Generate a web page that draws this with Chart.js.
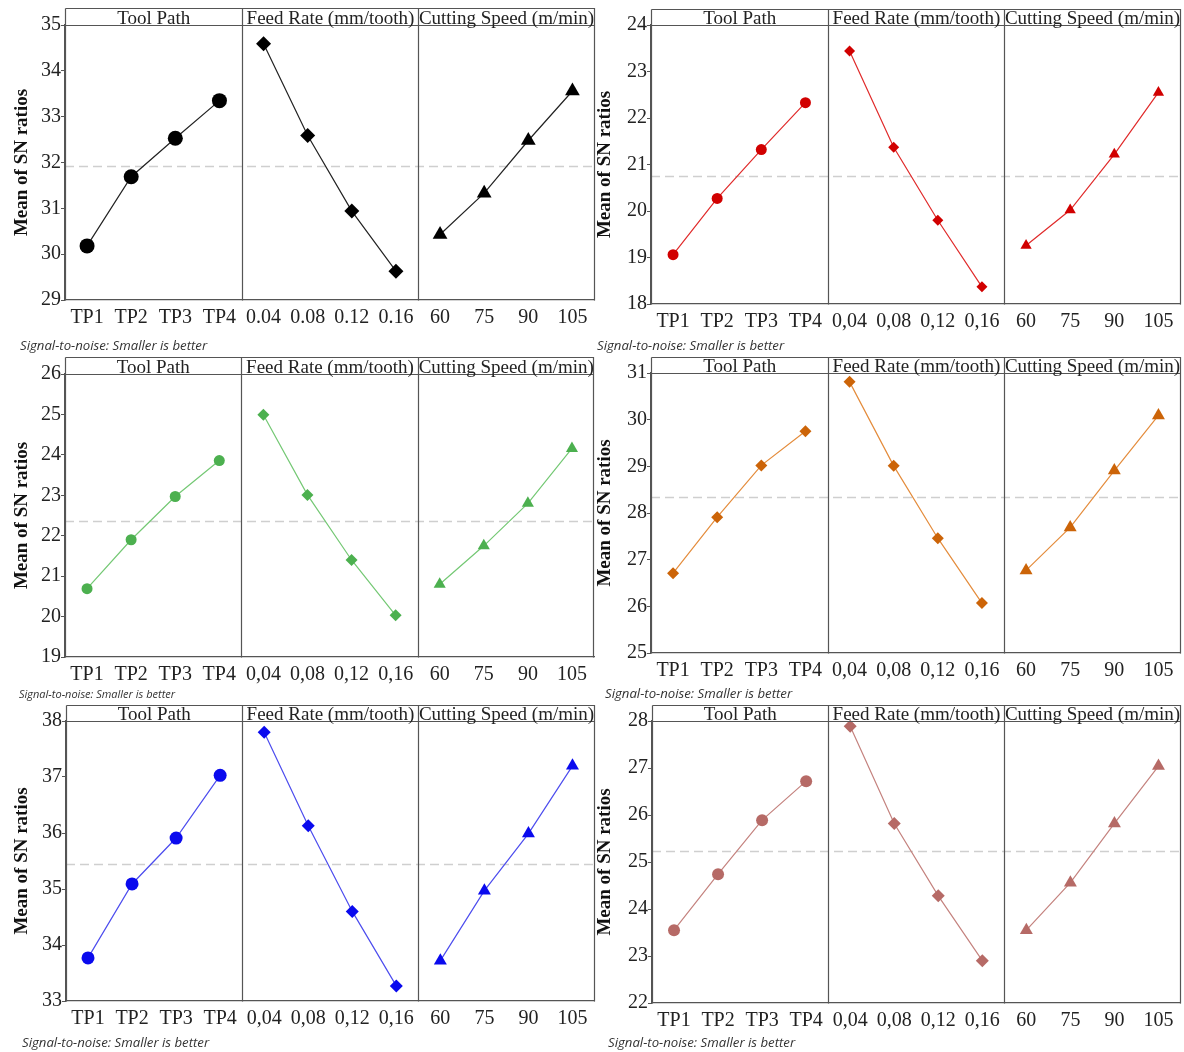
<!DOCTYPE html>
<html><head><meta charset="utf-8">
<script src="https://cdn.jsdelivr.net/npm/chart.js@4.4.1/dist/chart.umd.min.js"></script>
<style>
html,body{margin:0;padding:0;background:#fff;}
body{width:1184px;height:1052px;position:relative;overflow:hidden;}
.pane{position:absolute;}
.note{position:absolute;font-family:"Open Sans","Noto Sans",sans-serif;font-style:italic;color:#333;white-space:nowrap;line-height:16px;}
</style></head><body>
<script>
// ---------- data ----------
const toolPathLabels = ['TP1','TP2','TP3','TP4'];
const feedLabelsDot = ['0.04','0.08','0.12','0.16'];
const feedLabelsComma = ['0,04','0,08','0,12','0,16'];
const speedLabels = ['60','75','90','105'];
const facetTitles = ['Tool Path','Feed Rate (mm/tooth)','Cutting Speed (m/min)'];
const yAxisTitle = 'Mean of SN ratios';
const noteText = 'Signal-to-noise: Smaller is better';

// Panel A (black)
const aToolPath = [30.18, 31.69, 32.53, 33.35];
const aFeed = [34.59, 32.59, 30.94, 29.63];
const aSpeed = [30.43, 31.33, 32.48, 33.56];
const aMean = 31.93;
const aRange = [29, 35];
// Panel B (red)
const bToolPath = [19.06, 20.27, 21.32, 22.33];
const bFeed = [23.44, 21.37, 19.80, 18.37];
const bSpeed = [19.26, 20.02, 21.22, 22.55];
const bMean = 20.75;
const bRange = [18, 24];
// Panel C (green)
const cToolPath = [20.69, 21.90, 22.97, 23.86];
const cFeed = [24.99, 23.01, 21.40, 20.03];
const cSpeed = [20.80, 21.75, 22.80, 24.16];
const cMean = 22.36;
const cRange = [19, 26];
// Panel D (orange)
const dToolPath = [26.71, 27.91, 29.02, 29.75];
const dFeed = [30.81, 29.01, 27.46, 26.07];
const dSpeed = [26.77, 27.69, 28.91, 30.09];
const dMean = 28.35;
const dRange = [25, 31];
// Panel E (blue)
const eToolPath = [33.77, 35.09, 35.91, 37.03];
const eFeed = [37.80, 36.13, 34.60, 33.27];
const eSpeed = [33.72, 34.97, 35.99, 37.20];
const eMean = 35.45;
const eRange = [33, 38];
// Panel F (rose)
const fToolPath = [23.55, 24.74, 25.89, 26.72];
const fFeed = [27.89, 25.82, 24.28, 22.90];
const fSpeed = [23.55, 24.56, 25.82, 27.04];
const fMean = 25.23;
const fRange = [22, 28];

// ---------- layout / style ----------
const SERIF = '"Liberation Serif","Times New Roman",serif';
const panels = [
  {tp:aToolPath, fd:aFeed, sp:aSpeed, mean:aMean, range:aRange, feedLabels:feedLabelsDot,
   left:0, top:0, w:597, h:350, aL:65, aR:594, aT:25, aB:300, hT:8, titlePad:11,
   mark:'#000000', line:'#222222', tpShape:'circle', r:[7.5,7.5,8.5],
   note:{x:20, y:345, size:13.2}},
  {tp:bToolPath, fd:bFeed, sp:bSpeed, mean:bMean, range:bRange, feedLabels:feedLabelsComma,
   left:590, top:0, w:594, h:350, aL:61, aR:590, aT:25, aB:304, hT:9, titlePad:4,
   mark:'#d10000', line:'#e02a2a', tpShape:'circle', r:[5.5,5.5,6.5],
   note:{x:597, y:345, size:13.2}},
  {tp:cToolPath, fd:cFeed, sp:cSpeed, mean:cMean, range:cRange, feedLabels:feedLabelsComma,
   left:0, top:350, w:597, h:350, aL:65, aR:594, aT:24, aB:307, hT:7, titlePad:11,
   mark:'#4cb04f', line:'#74c874', tpShape:'circle', r:[5.5,6,7],
   note:{x:19, y:694, size:11}},
  {tp:dToolPath, fd:dFeed, sp:dSpeed, mean:dMean, range:dRange, feedLabels:feedLabelsComma,
   left:590, top:350, w:594, h:350, aL:61, aR:590, aT:23, aB:303, hT:7, titlePad:4,
   mark:'#cc6408', line:'#e48c3c', tpShape:'rectRot', r:[6,6,7.5],
   note:{x:605, y:693, size:13.2}},
  {tp:eToolPath, fd:eFeed, sp:eSpeed, mean:eMean, range:eRange, feedLabels:feedLabelsComma,
   left:0, top:700, w:597, h:352, aL:66, aR:594, aT:21, aB:301, hT:5, titlePad:11,
   mark:'#0a0aee', line:'#4c4cee', tpShape:'circle', r:[6.5,6.5,7.5],
   note:{x:22, y:1042, size:13.2}},
  {tp:fToolPath, fd:fFeed, sp:fSpeed, mean:fMean, range:fRange, feedLabels:feedLabelsComma,
   left:590, top:700, w:594, h:352, aL:62, aR:590, aT:21, aB:303, hT:5, titlePad:4,
   mark:'#b66a66', line:'#c4827e', tpShape:'circle', r:[6,6.5,7.5],
   note:{x:608, y:1042, size:13.2}}
];

const facetPlugin = {
  id: 'facets',
  beforeDatasetsDraw(chart, args, opts) {
    const {ctx, chartArea: a, scales: {y}} = chart;
    const my = Math.round(y.getPixelForValue(opts.mean)) + 0.5;
    ctx.save();
    ctx.strokeStyle = '#cfcfcf';
    ctx.lineWidth = 1.3;
    ctx.setLineDash([9, 5]);
    ctx.beginPath(); ctx.moveTo(a.left, my); ctx.lineTo(a.right, my); ctx.stroke();
    ctx.restore();
  },
  afterDraw(chart, args, opts) {
    const {ctx, chartArea: a, scales: {x}} = chart;
    const top = opts.headerTop + 0.5;
    const L = Math.round(a.left) + 0.5, R = Math.round(a.right) - 0.5;
    const B = Math.round(a.bottom) + 0.5, T = Math.round(a.top) + 0.5;
    ctx.save();
    ctx.strokeStyle = '#555';
    ctx.lineWidth = 1.2;
    ctx.beginPath();
    ctx.moveTo(L, top); ctx.lineTo(R, top);
    ctx.lineTo(R, B);
    ctx.moveTo(L, top); ctx.lineTo(L, B);
    ctx.moveTo(L, T); ctx.lineTo(R, T);
    const bounds = [a.left];
    [4, 8].forEach(i => {
      const xp = Math.round((x.getPixelForValue(i - 1) + x.getPixelForValue(i)) / 2) + 0.5;
      bounds.push(xp);
      ctx.moveTo(xp, top); ctx.lineTo(xp, B);
    });
    bounds.push(a.right);
    ctx.stroke();
    ctx.fillStyle = '#222';
    ctx.font = '19px ' + SERIF;
    ctx.textAlign = 'center';
    ctx.textBaseline = 'alphabetic';
    opts.titles.forEach((t, i) => {
      ctx.fillText(t, (bounds[i] + bounds[i + 1]) / 2, a.top - 1.5);
    });
    ctx.restore();
  }
};

function pad(vals, pos) {
  const out = new Array(12).fill(null);
  vals.forEach((v, i) => { out[pos * 4 + i] = v; });
  return out;
}

panels.forEach(p => {
  const div = document.createElement('div');
  div.className = 'pane';
  div.style.left = p.left + 'px'; div.style.top = p.top + 'px';
  div.style.width = p.w + 'px'; div.style.height = p.h + 'px';
  const cv = document.createElement('canvas');
  div.appendChild(cv);
  document.body.appendChild(div);

  const labels = [...toolPathLabels, ...p.feedLabels, ...speedLabels];
  const shapes = [p.tpShape, 'rectRot', 'triangle'];
  const series = [p.tp, p.fd, p.sp];
  const datasets = series.map((s, i) => ({
    data: pad(s, i),
    borderColor: p.line,
    borderWidth: 1.2,
    backgroundColor: p.mark,
    pointBackgroundColor: p.mark,
    pointBorderColor: p.mark,
    pointBorderWidth: 0,
    pointStyle: shapes[i],
    pointRadius: p.r[i],
    spanGaps: false,
    tension: 0,
    clip: false
  }));

  const chart = new Chart(cv, {
    type: 'line',
    data: {labels, datasets},
    plugins: [facetPlugin],
    options: {
      responsive: true,
      maintainAspectRatio: false,
      animation: false,
      events: [],
      layout: {padding: {left: 0, right: p.w - p.aR, top: p.aT, bottom: 0}},
      plugins: {
        legend: {display: false},
        tooltip: {enabled: false},
        facets: {mean: p.mean, headerTop: p.hT, titles: facetTitles}
      },
      scales: {
        x: {
          type: 'category',
          offset: true,
          grid: {display: false},
          border: {display: true, color: '#555', width: 1.2},
          ticks: {autoSkip: false, maxRotation: 0, color: '#222', padding: -2,
                  font: {family: SERIF, size: 20}},
          afterFit(s) { s.height = p.h - p.aB; s.paddingLeft = 0; s.paddingRight = 0; }
        },
        y: {
          min: p.range[0], max: p.range[1],
          ticks: {stepSize: 1, color: '#222', padding: 0, font: {family: SERIF, size: 20}},
          grid: {display: true, drawOnChartArea: false, drawTicks: true, tickLength: 4, color: '#555'},
          border: {display: true, color: '#555', width: 1.2},
          title: {display: true, text: yAxisTitle, color: '#111',
                  font: {family: SERIF, size: 19, weight: 'bold'},
                  padding: {top: p.titlePad, bottom: 0}},
          afterFit(s) { s.width = p.aL; s.paddingTop = 0; s.paddingBottom = 0; }
        }
      }
    }
  });
  // the library reserves a small margin on the right; widen the canvas (whole pixels) so the plot ends where intended
  for (let k = 0; k < 2; k++) {
    const diff = Math.round(p.aR - chart.chartArea.right);
    if (diff === 0) break;
    const nw = parseInt(div.style.width, 10) + diff;
    div.style.width = nw + 'px';
    chart.resize(nw, p.h);
  }

  const n = document.createElement('div');
  n.className = 'note';
  n.textContent = noteText;
  n.style.left = p.note.x + 'px';
  n.style.top = (p.note.y - 8) + 'px';
  n.style.fontSize = p.note.size + 'px';
  document.body.appendChild(n);
});
</script>
</body></html>
